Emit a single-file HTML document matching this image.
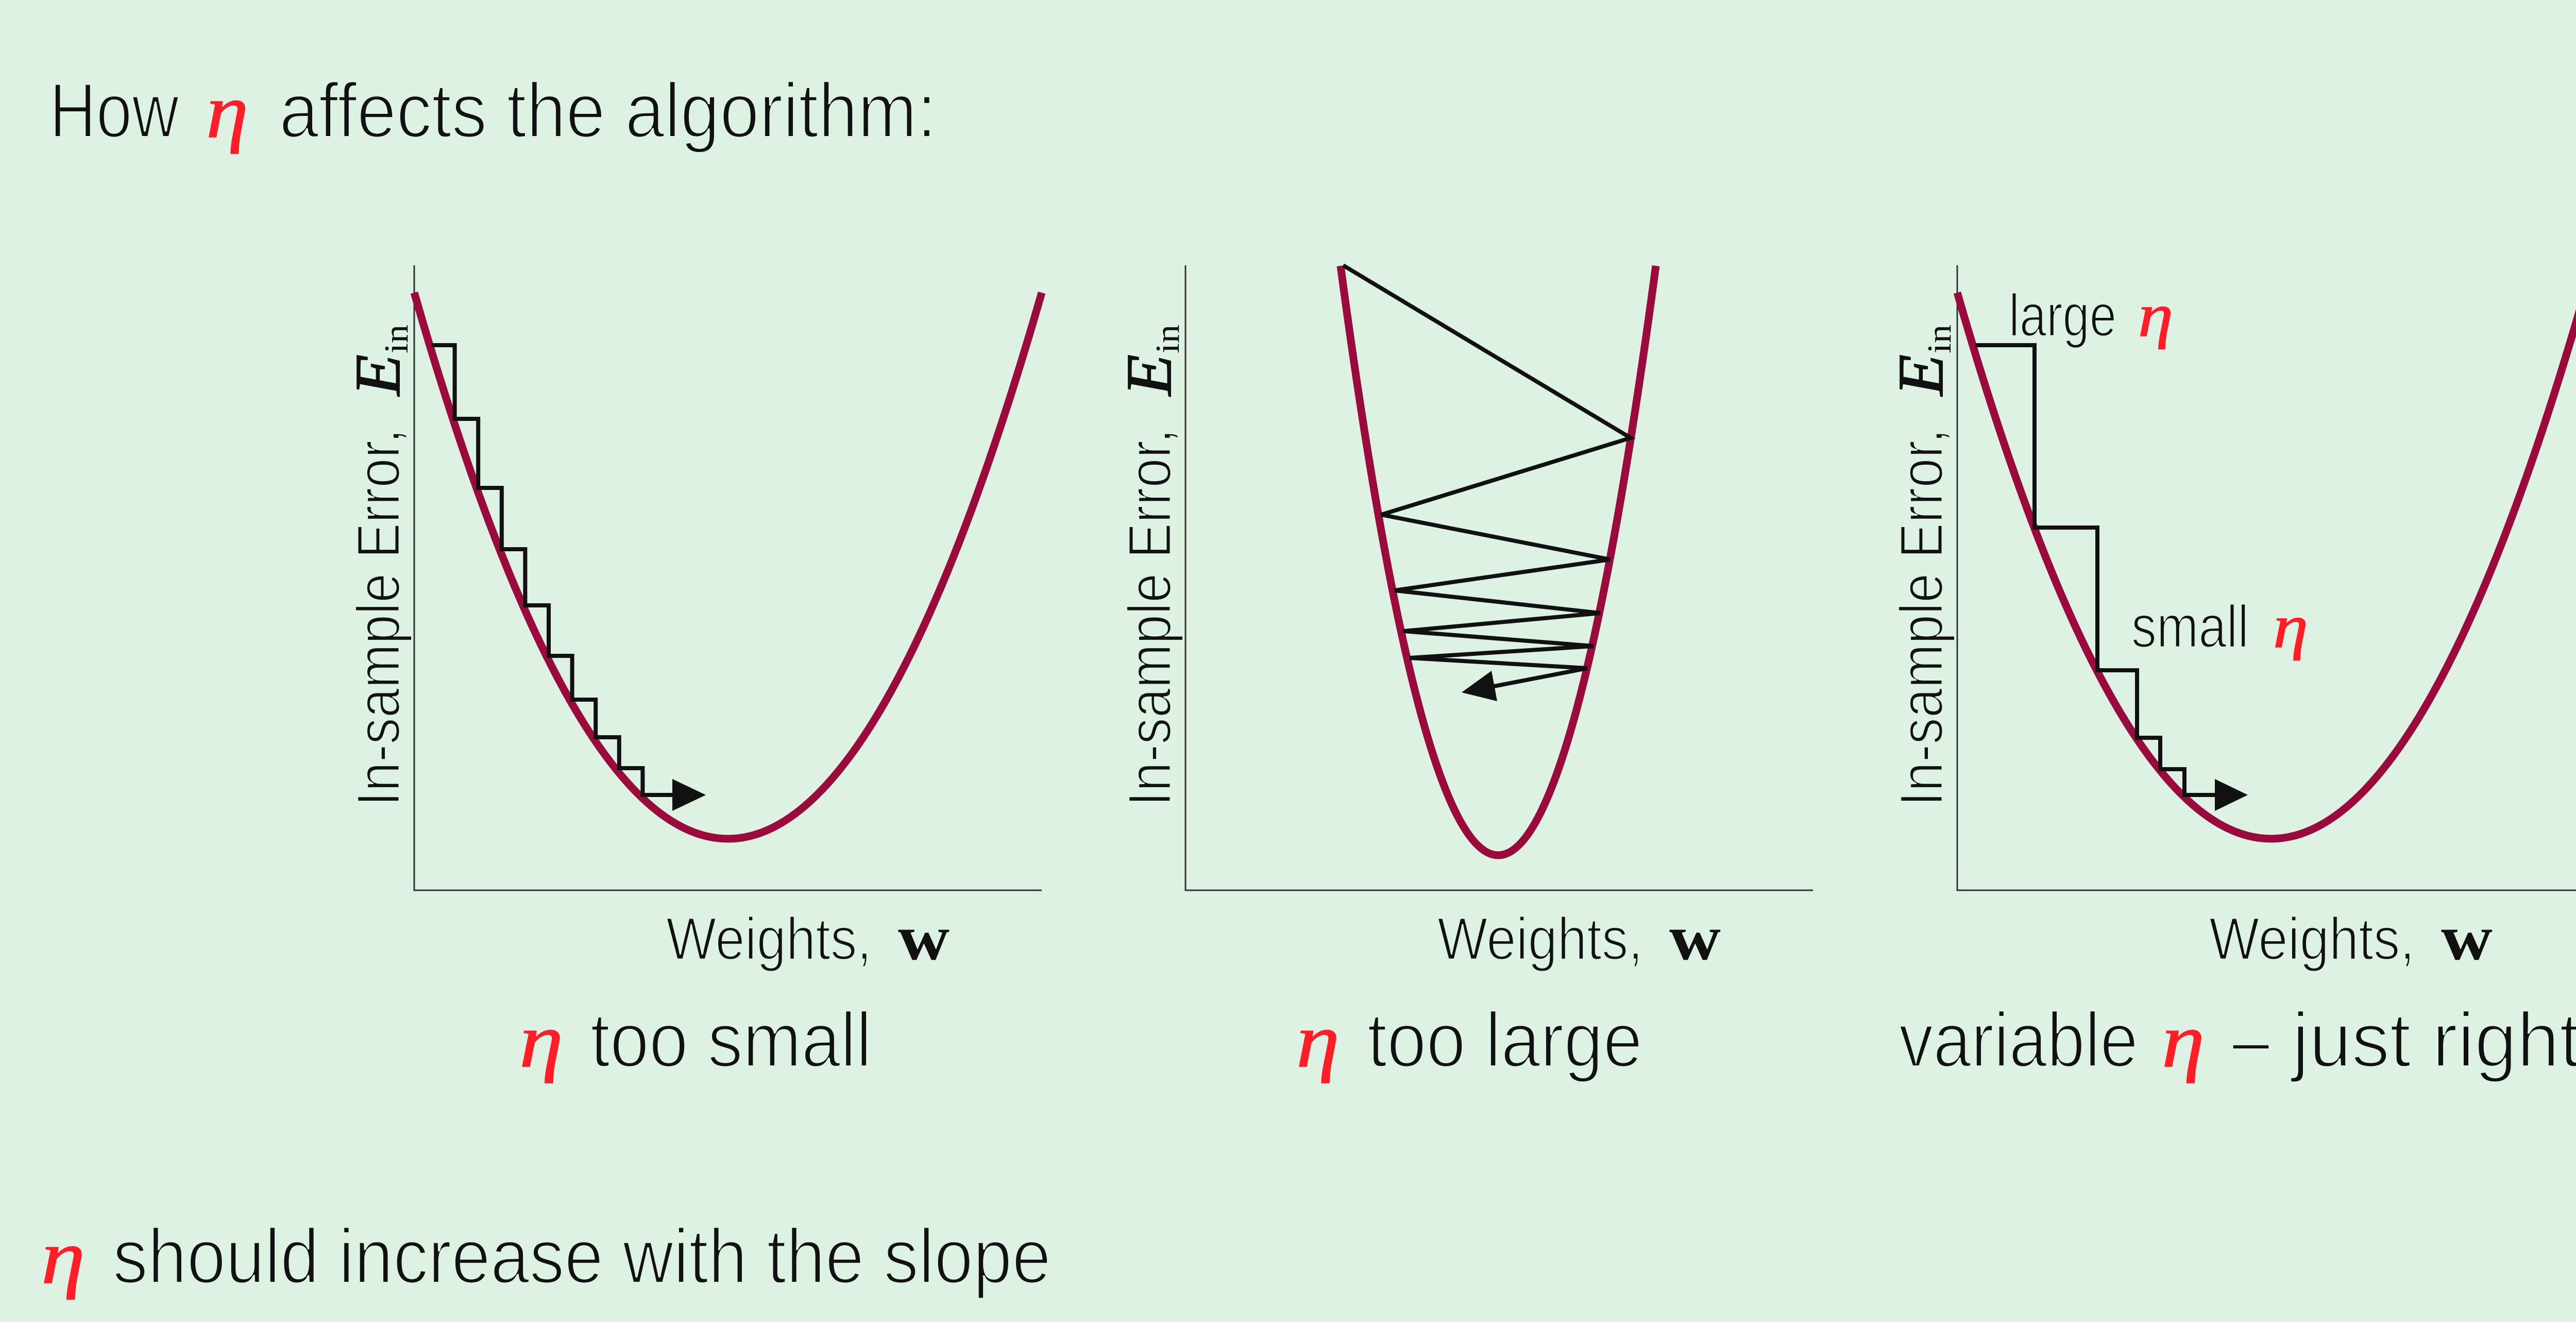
<!DOCTYPE html>
<html>
<head>
<meta charset="utf-8">
<style>
html,body{margin:0;padding:0;background:#def2e4;}
svg{display:block;}
.s{font-family:"Liberation Sans",sans-serif;fill:#111;stroke:#def2e4;stroke-width:4;}
.sm{font-family:"Liberation Sans",sans-serif;fill:#111;stroke:#def2e4;stroke-width:3;}
.eta{font-family:"Liberation Serif",serif;font-style:italic;fill:#ff1e28;stroke:#ff1e28;stroke-width:1.5;}
.m{font-family:"Liberation Serif",serif;fill:#111;}
</style>
</head>
<body>
<svg width="5108" height="2566" viewBox="0 0 5108 2566" xmlns="http://www.w3.org/2000/svg">
<rect width="5108" height="2566" fill="#def2e4"/>

<!-- Title -->
<text class="s" x="96" y="266" font-size="150" textLength="251" lengthAdjust="spacingAndGlyphs">How</text>
<text class="eta" x="400" y="266" font-size="150" textLength="82" lengthAdjust="spacingAndGlyphs">η</text>
<text class="s" x="542" y="266" font-size="150" textLength="1276" lengthAdjust="spacingAndGlyphs">affects the algorithm:</text>

<!-- y labels (drawn first so axes sit on top) -->
<g>
<text class="sm" font-size="118" transform="translate(775,1565) rotate(-90)" textLength="733" lengthAdjust="spacingAndGlyphs">In-sample Error,</text>
<text class="m" font-size="125" font-style="italic" stroke="#111" stroke-width="2" transform="translate(775,768) rotate(-90)" textLength="80" lengthAdjust="spacingAndGlyphs">E</text>
<text class="m" font-size="66" transform="translate(791,686) rotate(-90)" textLength="56" lengthAdjust="spacingAndGlyphs">in</text>

<text class="sm" font-size="118" transform="translate(2272,1565) rotate(-90)" textLength="733" lengthAdjust="spacingAndGlyphs">In-sample Error,</text>
<text class="m" font-size="125" font-style="italic" stroke="#111" stroke-width="2" transform="translate(2272,768) rotate(-90)" textLength="80" lengthAdjust="spacingAndGlyphs">E</text>
<text class="m" font-size="66" transform="translate(2288,686) rotate(-90)" textLength="56" lengthAdjust="spacingAndGlyphs">in</text>

<text class="sm" font-size="118" transform="translate(3770,1565) rotate(-90)" textLength="733" lengthAdjust="spacingAndGlyphs">In-sample Error,</text>
<text class="m" font-size="125" font-style="italic" stroke="#111" stroke-width="2" transform="translate(3770,768) rotate(-90)" textLength="80" lengthAdjust="spacingAndGlyphs">E</text>
<text class="m" font-size="66" transform="translate(3786,686) rotate(-90)" textLength="56" lengthAdjust="spacingAndGlyphs">in</text>
</g>

<!-- ===== Panel 1 ===== -->
<g fill="none" stroke="#333" stroke-width="3">
  <line x1="804" y1="515" x2="804" y2="1729"/>
  <line x1="803" y1="1728" x2="2022" y2="1728"/>
</g>
<path d="M804,568 Q1413,2688 2022,568" fill="none" stroke="#9b0a3c" stroke-width="15"/>
<path d="M837,670 H882.6 V813 H928.2 V947 H973.8 V1066 H1019.4 V1175 H1065 V1273 H1110.6 V1358 H1156.2 V1431 H1201.8 V1491 H1247.4 V1543 H1310" fill="none" stroke="#111" stroke-width="8" stroke-linejoin="miter"/>
<polygon points="1305,1512 1370,1543 1305,1574" fill="#111"/>

<text class="sm" x="1293" y="1862" font-size="116" textLength="399" lengthAdjust="spacingAndGlyphs">Weights,</text>
<text class="m" x="1743" y="1862" font-size="125" font-weight="bold" textLength="100" lengthAdjust="spacingAndGlyphs">w</text>

<text class="eta" x="1008" y="2070" font-size="150" textLength="85" lengthAdjust="spacingAndGlyphs">η</text>
<text class="s" x="1146" y="2070" font-size="150" textLength="546" lengthAdjust="spacingAndGlyphs">too small</text>

<!-- ===== Panel 2 ===== -->
<g fill="none" stroke="#333" stroke-width="3">
  <line x1="2301" y1="515" x2="2301" y2="1729"/>
  <line x1="2300" y1="1728" x2="3519" y2="1728"/>
</g>
<path d="M2602,516 Q2908,2804 3214,516" fill="none" stroke="#9b0a3c" stroke-width="15"/>
<polyline points="2607,515 3165,850 2681,999 3125,1086 2707,1146 3106,1190 2724,1225 3093,1254 2736,1277 3081,1297 2900,1332" fill="none" stroke="#111" stroke-width="8" stroke-linejoin="miter"/>
<polygon points="2906,1361 2837,1344 2895,1302" fill="#111"/>

<text class="sm" x="2790" y="1862" font-size="116" textLength="399" lengthAdjust="spacingAndGlyphs">Weights,</text>
<text class="m" x="3240" y="1862" font-size="125" font-weight="bold" textLength="100" lengthAdjust="spacingAndGlyphs">w</text>

<text class="eta" x="2516" y="2070" font-size="150" textLength="84" lengthAdjust="spacingAndGlyphs">η</text>
<text class="s" x="2654" y="2070" font-size="150" textLength="534" lengthAdjust="spacingAndGlyphs">too large</text>

<!-- ===== Panel 3 ===== -->
<g fill="none" stroke="#333" stroke-width="3">
  <line x1="3799" y1="515" x2="3799" y2="1729"/>
  <line x1="3798" y1="1728" x2="5017" y2="1728"/>
</g>
<path d="M3799,568 Q4408,2688 5017,568" fill="none" stroke="#9b0a3c" stroke-width="15"/>
<path d="M3834,670 H3949 V1024 H4071 V1301 H4148 V1432 H4193 V1493 H4240 V1543 H4305" fill="none" stroke="#111" stroke-width="8" stroke-linejoin="miter"/>
<polygon points="4299,1512 4363,1543 4299,1574" fill="#111"/>

<text class="sm" x="3899" y="652" font-size="116" textLength="209" lengthAdjust="spacingAndGlyphs">large</text>
<text class="eta" x="4150" y="652" font-size="120" textLength="68" lengthAdjust="spacingAndGlyphs">η</text>
<text class="sm" x="4137" y="1256" font-size="116" textLength="228" lengthAdjust="spacingAndGlyphs">small</text>
<text class="eta" x="4412" y="1256" font-size="120" textLength="68" lengthAdjust="spacingAndGlyphs">η</text>

<text class="sm" x="4288" y="1862" font-size="116" textLength="399" lengthAdjust="spacingAndGlyphs">Weights,</text>
<text class="m" x="4738" y="1862" font-size="125" font-weight="bold" textLength="100" lengthAdjust="spacingAndGlyphs">w</text>

<text class="s" x="3686" y="2070" font-size="150" textLength="464" lengthAdjust="spacingAndGlyphs">variable</text>
<text class="eta" x="4196" y="2070" font-size="150" textLength="83" lengthAdjust="spacingAndGlyphs">η</text>
<text class="s" x="4333" y="2070" font-size="150" textLength="72" lengthAdjust="spacingAndGlyphs">–</text>
<text class="s" x="4449" y="2070" font-size="150" textLength="560" lengthAdjust="spacingAndGlyphs">just right</text>

<!-- Bottom line -->
<text class="eta" x="80" y="2490" font-size="150" textLength="85" lengthAdjust="spacingAndGlyphs">η</text>
<text class="s" x="219" y="2490" font-size="150" textLength="1821" lengthAdjust="spacingAndGlyphs">should increase with the slope</text>
</svg>
</body>
</html>
